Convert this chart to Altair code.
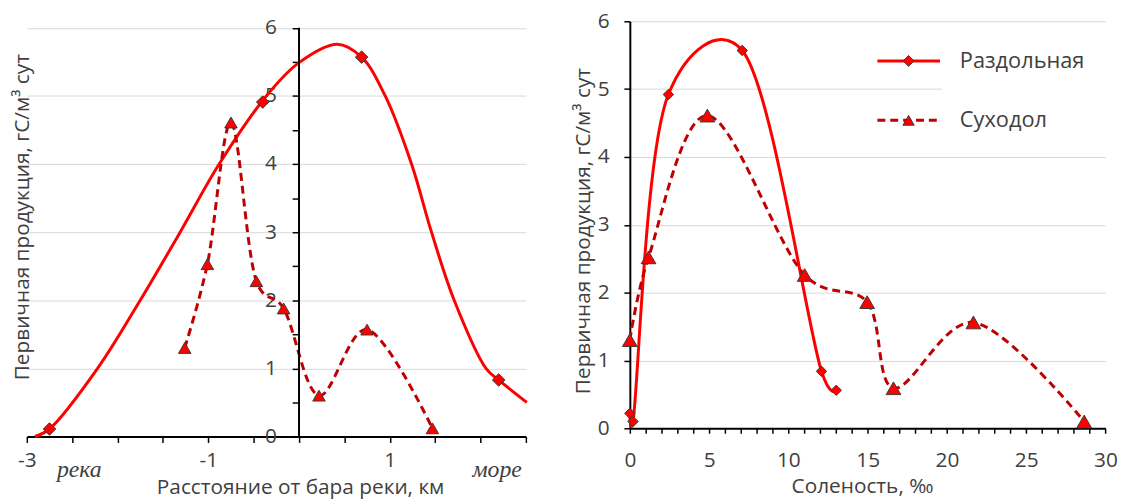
import altair as alt
import pandas as pd

# ---------------- data ----------------
# Left panel: distance from the river bar, km
razd_dist = [-2.75, -0.40, 0.69, 2.20]
razd_dist_prod = [0.11, 4.91, 5.57, 0.83]
# smooth trend curve of Раздольная
trend_dist = [-2.91, -2.75, -2.22, -1.75, -1.31, -0.88, -0.36, 0.0, 0.42, 0.69,
              0.95, 1.24, 1.46, 1.71, 2.06, 2.20, 2.51]
trend_prod = [0.0, 0.11, 1.0, 2.0, 3.0, 4.0, 5.0, 5.49, 5.76, 5.57,
              5.0, 4.0, 3.0, 2.0, 1.0, 0.83, 0.50]
sukh_dist = [-1.26, -1.01, -0.75, -0.47, -0.17, 0.22, 0.75, 1.47]
sukh_dist_prod = [1.30, 2.53, 4.61, 2.28, 1.88, 0.60, 1.57, 0.12]

# Right panel: salinity, ‰
razd_sal = [0.0, 0.2, 2.43, 7.09, 12.09, 13.02]
razd_sal_prod = [0.22, 0.10, 4.92, 5.57, 0.84, 0.56]
sukh_sal = [0.0, 1.18, 4.89, 11.03, 14.97, 16.63, 21.67, 28.66]
sukh_sal_prod = [1.30, 2.52, 4.61, 2.26, 1.86, 0.59, 1.56, 0.10]

series_names = ["Раздольная", "Суходол"]
left_notes = ["река", "море"]
left_tick_labels = [-3, -1, 1]

# ---------------- styling ----------------
FONT = "Open Sans"
TXT = "#404040"
RED = "#FF0000"
DARK = "#C00000"
OUT = "#3a3a3a"
DASH = [8, 5]
SMOOTH = "catmull-rom"
XL_ALPHA = 0.2      # spreadsheet-like smoothing of the series lines

LW, LH = 504, 419.3     # left plot area (top extended so both panels align)
RW, RH = 480.3, 411     # right plot area
LYMAX = 6 * LH / 412.7

df_trend = pd.DataFrame({"x": trend_dist, "y": trend_prod})
df_rl = pd.DataFrame({"x": razd_dist, "y": razd_dist_prod})
df_sl = pd.DataFrame({"x": sukh_dist, "y": sukh_dist_prod})
df_rr = pd.DataFrame({"x": razd_sal, "y": razd_sal_prod})
df_sr = pd.DataFrame({"x": sukh_sal, "y": sukh_sal_prod})
one = pd.DataFrame({"k": [0]})

# ---------------- left panel ----------------
xl = alt.X("x:Q", scale=alt.Scale(domain=[-3, 2.5], nice=False, zero=False),
           axis=alt.Axis(values=[-3 + 0.5 * i for i in range(12)],
                         labelExpr="indexof(%s, datum.value) >= 0 ? toString(datum.value) : ''"
                                   % str(left_tick_labels),
                         grid=False, tickSize=6, labelPadding=18.5, labelBaseline="middle",
                         title="Расстояние от бара реки, км",
                         titleX=276, titleY=52, titleBaseline="middle", titleAlign="center"))
yl = alt.Y("y:Q", scale=alt.Scale(domain=[0, LYMAX], nice=False),
           axis=alt.Axis(values=[0.5 * i for i in range(13)],
                         labelExpr="datum.value % 1 == 0 ? toString(datum.value) : ''",
                         offset=-275, domain=False, grid=True,
                         gridOpacity={"condition": {"test": "datum.value % 1 == 0 && datum.value > 0",
                                                    "value": 1}, "value": 0},
                         tickSize=7, labelPadding=16,
                         title="Первичная продукция, гС/м³ сут",
                         titleX=-279.5, titleY=197.3, titleAngle=270,
                         titleBaseline="middle", titleAlign="center"))

trend = alt.Chart(df_trend).mark_line(color=RED, strokeWidth=3, interpolate=SMOOTH).encode(x=xl, y=yl)
sl_line = alt.Chart(df_sl).mark_line(color=DARK, strokeWidth=3, strokeDash=DASH,
                                     interpolate=SMOOTH, tension=XL_ALPHA).encode(x=xl, y=yl)
yaxis_line = alt.Chart(pd.DataFrame({"x": [0], "y": [0], "y2": [6]})).mark_rule(
    color="black", strokeWidth=2).encode(x=xl, y=yl, y2="y2:Q")
rl_pts = alt.Chart(df_rl).mark_point(shape="diamond", filled=True, fill=RED, stroke=OUT,
                                     strokeWidth=1, size=160, opacity=1).encode(x=xl, y=yl)
sl_pts = alt.Chart(df_sl).mark_point(shape="triangle-up", filled=True, fill=RED, stroke=OUT,
                                     strokeWidth=1, size=160, opacity=1).encode(x=xl, y=yl)
note1 = alt.Chart(one).mark_text(font="Liberation Serif", fontStyle="italic", fontSize=24,
                                 color=TXT, baseline="alphabetic", align="center",
                                 text=left_notes[0]).encode(x=alt.value(53), y=alt.value(460))
note2 = alt.Chart(one).mark_text(font="Liberation Serif", fontStyle="italic", fontSize=24,
                                 color=TXT, baseline="alphabetic", align="center",
                                 text=left_notes[1]).encode(x=alt.value(475), y=alt.value(460))

left = alt.layer(trend, sl_line, yaxis_line, rl_pts, sl_pts, note1, note2).properties(width=LW, height=LH)

# ---------------- right panel ----------------
xr = alt.X("x:Q", scale=alt.Scale(domain=[0, 30], nice=False),
           axis=alt.Axis(values=list(range(31)),
                         labelExpr="datum.value % 5 == 0 ? toString(datum.value) : ''",
                         grid=False, tickSize=5, labelPadding=28, labelBaseline="middle",
                         title="Соленость, ‰",
                         titleX=234.5, titleY=58.5, titleBaseline="middle", titleAlign="center"))
yr = alt.Y("y:Q", scale=alt.Scale(domain=[0, 6], nice=False),
           axis=alt.Axis(values=list(range(7)), grid=True, tickSize=6, labelPadding=15,
                         title="Первичная продукция, гС/м³ сут",
                         titleX=-46.7, titleY=211.3, titleAngle=270,
                         titleBaseline="middle", titleAlign="center"))

legend_bg = alt.Chart(one).mark_rect(fill="white").encode(
    x=alt.value(315.5), x2=alt.value(482), y=alt.value(22), y2=alt.value(126))
rr_line = alt.Chart(df_rr).mark_line(color=RED, strokeWidth=3, interpolate=SMOOTH,
                                     tension=XL_ALPHA).encode(x=xr, y=yr)
sr_line = alt.Chart(df_sr).mark_line(color=DARK, strokeWidth=3, strokeDash=DASH,
                                     interpolate=SMOOTH, tension=XL_ALPHA).encode(x=xr, y=yr)
rr_pts = alt.Chart(df_rr).mark_point(shape="diamond", filled=True, fill=RED, stroke=OUT,
                                     strokeWidth=1, size=110, opacity=1).encode(x=xr, y=yr)
sr_pts = alt.Chart(df_sr).mark_point(shape="triangle-up", filled=True, fill=RED, stroke=OUT,
                                     strokeWidth=1, size=220, opacity=1).encode(x=xr, y=yr)

lg = []
for i, (name, color, dash, shape, size) in enumerate(
        [(series_names[0], RED, None, "diamond", 120), (series_names[1], DARK, DASH, "triangle-up", 130)]):
    yy = 40 + 60 * i
    rule_kw = dict(color=color, strokeWidth=3)
    if dash:
        rule_kw["strokeDash"] = dash
    lg.append(alt.Chart(one).mark_rule(**rule_kw).encode(
        x=alt.value(250), x2=alt.value(313.3), y=alt.value(yy)))
    lg.append(alt.Chart(one).mark_point(shape=shape, filled=True, fill=RED, stroke=OUT,
                                        strokeWidth=1, size=size, opacity=1).encode(
        x=alt.value(281.5), y=alt.value(yy)))
    lg.append(alt.Chart(one).mark_text(font=FONT, fontSize=22, color=TXT, align="left",
                                       baseline="middle", text=name).encode(
        x=alt.value(333.3), y=alt.value(yy)))

right = alt.layer(legend_bg, rr_line, sr_line, rr_pts, sr_pts, *lg).properties(width=RW, height=RH)

chart = alt.hconcat(left, right, spacing=40).properties(
    padding={"left": 3, "top": 0, "right": 0, "bottom": 0},
    background="white",
).configure_view(stroke=None).configure_axis(
    labelFont=FONT, labelFontSize=21, labelColor=TXT,
    titleFont=FONT, titleFontSize=21, titleFontWeight="normal", titleColor=TXT,
    domainColor="black", domainWidth=2, tickColor="black", tickWidth=1.5,
    labelFlush=False, labelOverlap=False, gridColor="#d9d9d9", gridWidth=1,
)

chart.save("out.html", embed_options={"renderer": "svg", "actions": False})
